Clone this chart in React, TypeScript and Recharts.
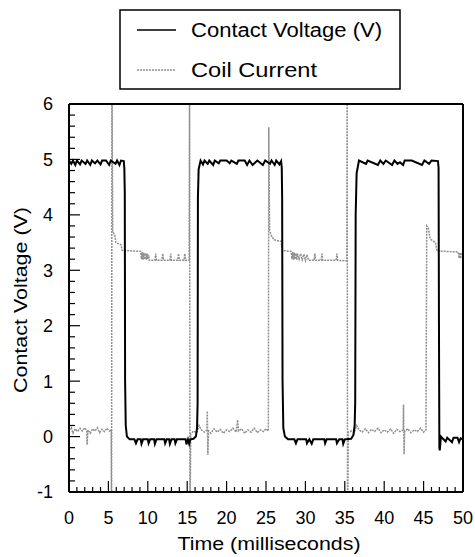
import React from "react";
import { LineChart, Line, XAxis, YAxis, Legend } from "recharts";

// contact voltage trace, [time ms, volts]
const contactPoints: [number, number][] = [
  [0, 4.98], [0.3, 4.92], [0.5, 4.98], [0.8, 4.9], [1.0, 4.98], [1.4, 4.91], [1.6, 4.98],
  [2.1, 4.92], [2.3, 4.98], [2.7, 4.9], [2.9, 4.98], [3.3, 4.93], [3.6, 4.98], [4.0, 4.91],
  [4.2, 4.98], [4.7, 4.98], [5.1, 4.9], [5.3, 4.98], [5.9, 4.92], [6.1, 4.98], [6.4, 4.9],
  [6.6, 4.98], [6.95, 4.97], [7.02, 4.85], [7.08, 4.4], [7.12, 1.0], [7.2, 0.2], [7.35, 0.0],
  [7.7, -0.05], [8.3, -0.05], [8.5, -0.12], [8.7, -0.05], [9.1, -0.05], [9.2, -0.13], [9.4, -0.05],
  [10.0, -0.05], [10.1, -0.12], [10.3, -0.05], [10.8, -0.05], [10.9, -0.13], [11.1, -0.05],
  [12.1, -0.05], [12.2, -0.12], [12.4, -0.05], [12.7, -0.05], [12.8, -0.13], [13.0, -0.05],
  [13.4, -0.05], [13.5, -0.12], [13.7, -0.05], [14.8, -0.05], [14.9, -0.14], [15.1, -0.05],
  [15.25, -0.13], [15.4, -0.05], [15.8, -0.04], [16.1, 0.0], [16.25, 0.15], [16.32, 0.6],
  [16.36, 4.3], [16.45, 4.82], [16.7, 4.98], [17.0, 4.91], [17.2, 4.98], [17.6, 4.92], [17.8, 4.98],
  [18.3, 4.9], [18.5, 4.98], [19.0, 4.93], [19.2, 4.98], [20.0, 4.98], [20.4, 4.93], [20.6, 4.98],
  [21.3, 4.92], [21.5, 4.98], [22.3, 4.98], [22.6, 4.9], [22.9, 4.98], [23.3, 4.9], [23.6, 4.94],
  [23.9, 4.98], [24.6, 4.9], [24.9, 4.98], [25.5, 4.92], [25.7, 4.98], [26.1, 4.9], [26.3, 4.98],
  [26.7, 4.91], [26.92, 4.97], [27.0, 4.85], [27.05, 4.3], [27.1, 1.0], [27.2, 0.15], [27.4, 0.0],
  [27.8, -0.05], [28.6, -0.05], [28.8, -0.12], [29.0, -0.05], [30.1, -0.05], [30.2, -0.12],
  [30.5, -0.05], [30.8, -0.13], [31.0, -0.05], [32.4, -0.05], [32.5, -0.12], [32.7, -0.05],
  [33.9, -0.05], [34.0, -0.12], [34.3, -0.05], [34.7, -0.05], [34.8, -0.13], [35.0, -0.05],
  [35.8, -0.04], [36.1, 0.03], [36.25, 0.2], [36.32, 0.6], [36.38, 4.0], [36.5, 4.75],
  [36.8, 4.98], [37.7, 4.92], [37.9, 4.98], [39.2, 4.9], [39.5, 4.98], [39.9, 4.92], [40.2, 4.98],
  [41.0, 4.9], [41.3, 4.98], [41.7, 4.92], [42.0, 4.95], [42.4, 4.9], [42.6, 4.98], [43.5, 4.98],
  [44.8, 4.9], [45.1, 4.98], [45.7, 4.92], [46.0, 4.98], [46.82, 4.97], [46.9, 4.85],
  [46.95, 2.0], [47.0, -0.2], [47.05, -0.25], [47.2, 0.0], [47.4, -0.03], [47.8, -0.09],
  [48.0, -0.02], [48.6, -0.1], [48.8, -0.02], [49.3, -0.02], [49.5, -0.1], [49.7, -0.03], [50, -0.05],
];

// coil current trace, [time ms, value on the same scale]
const coilPoints: [number, number][] = [
  [0, 0.12], [0.3, 0.16], [0.5, 0.06], [0.8, 0.14], [1.1, 0.09], [1.4, 0.15], [1.7, 0.1],
  [2.0, 0.16], [2.25, 0.1], [2.3, -0.15], [2.4, 0.12], [2.7, 0.06], [3.0, 0.14], [3.3, 0.1],
  [3.6, 0.16], [3.9, 0.07], [4.2, 0.13], [4.5, 0.09], [4.8, 0.15], [5.1, 0.1], [5.35, 0.12],
  [5.4, -1.6], [5.45, 6.6], [5.55, 3.7], [5.8, 3.64], [5.95, 3.5], [6.6, 3.46], [6.75, 3.36],
  [8.0, 3.35], [9.1, 3.34], [9.2, 3.2], [9.3, 3.33], [9.4, 3.19], [9.5, 3.32], [9.6, 3.2],
  [9.7, 3.31], [9.8, 3.19], [9.9, 3.3], [10.0, 3.2], [10.1, 3.28], [10.2, 3.18], [10.9, 3.18],
  [11.0, 3.3], [11.1, 3.18], [11.8, 3.18], [11.9, 3.3], [12.0, 3.18], [12.8, 3.18], [12.9, 3.3],
  [13.0, 3.18], [13.8, 3.18], [13.9, 3.3], [14.0, 3.18], [14.6, 3.18], [14.7, 3.3], [14.8, 3.18],
  [15.25, 3.18], [15.3, 6.6], [15.35, -1.6], [15.45, 0.05], [15.8, 0.1], [16.2, 0.07], [16.5, 0.2],
  [16.8, 0.12], [17.2, 0.08], [17.5, 0.12], [17.55, 0.46], [17.62, -0.33], [17.7, 0.1], [18.0, 0.06],
  [18.4, 0.14], [18.8, 0.08], [19.2, 0.13], [19.6, 0.06], [20.0, 0.12], [20.4, 0.09], [20.8, 0.15],
  [21.2, 0.08], [21.4, 0.3], [21.5, 0.1], [21.9, 0.14], [22.3, 0.06], [22.7, 0.12], [23.1, 0.08],
  [23.5, 0.15], [23.9, 0.07], [24.3, 0.12], [24.7, 0.09], [25.0, 0.14], [25.3, 0.1], [25.35, 5.58],
  [25.45, 3.72], [25.7, 3.62], [26.0, 3.55], [26.95, 3.52], [27.05, 3.36], [28.2, 3.34], [28.3, 3.2],
  [28.4, 3.33], [28.5, 3.19], [28.6, 3.32], [28.7, 3.2], [28.8, 3.31], [28.9, 3.19], [29.0, 3.3],
  [29.2, 3.2], [29.4, 3.3], [29.6, 3.19], [29.8, 3.29], [30.0, 3.18], [30.2, 3.28], [30.4, 3.18],
  [31.1, 3.18], [31.2, 3.3], [31.3, 3.18], [32.0, 3.18], [32.1, 3.3], [32.2, 3.18], [33.9, 3.18],
  [34.0, 3.3], [34.1, 3.18], [35.25, 3.17], [35.3, 6.6], [35.35, -1.6], [35.45, 0.08], [35.8, 0.1],
  [36.2, 0.07], [36.5, 0.2], [36.8, 0.12], [37.2, 0.08], [37.6, 0.14], [38.0, 0.07], [38.4, 0.13],
  [38.8, 0.09], [39.2, 0.15], [39.6, 0.07], [40.0, 0.12], [40.4, 0.08], [40.8, 0.14], [41.2, 0.06],
  [41.6, 0.13], [42.0, 0.09], [42.4, 0.12], [42.45, 0.58], [42.52, -0.32], [42.6, 0.1], [43.0, 0.14],
  [43.4, 0.07], [43.8, 0.12], [44.2, 0.09], [44.6, 0.15], [45.0, 0.08], [45.3, 0.12], [45.4, 3.8],
  [45.6, 3.76], [45.85, 3.56], [46.5, 3.5], [46.7, 3.35], [49.4, 3.33], [49.5, 3.22], [49.6, 3.32],
  [49.7, 3.21], [49.8, 3.31], [50, 3.3],
];

const xMajor = [0, 5, 10, 15, 20, 25, 30, 35, 40, 45, 50];
const xTicks = [
  0, 1, 2, 3, 4, 5, 6, 7, 8, 9, 10, 11, 12, 13, 14, 15, 16, 17, 18, 19, 20, 21, 22, 23, 24, 25,
  26, 27, 28, 29, 30, 31, 32, 33, 34, 35, 36, 37, 38, 39, 40, 41, 42, 43, 44, 45, 46, 47, 48, 49, 50,
];
const yTicks = [
  -1, -0.8, -0.6, -0.4, -0.2, 0, 0.2, 0.4, 0.6, 0.8, 1, 1.2, 1.4, 1.6, 1.8, 2, 2.2, 2.4, 2.6, 2.8,
  3, 3.2, 3.4, 3.6, 3.8, 4, 4.2, 4.4, 4.6, 4.8, 5, 5.2, 5.4, 5.6, 5.8, 6,
];

const contactData = contactPoints.map(([t, v]) => ({ t, v }));
const coilData = coilPoints.map(([t, v]) => ({ t, v }));

const FONT = "'Liberation Sans', Arial, Helvetica, sans-serif";
const GRAY = "#8f8f8f";

const XTick = (props: any) => {
  const { x, y, payload } = props;
  const major = xMajor.includes(payload.value);
  return (
    <g>
      <line x1={x} x2={x} y1={y} y2={y - (major ? 11 : 5)} stroke="#000" strokeWidth={1.2} />
      {major && (
        <text x={x} y={y + 32} textAnchor="middle" fontSize={18} fontFamily={FONT} fill="#000">
          {payload.value}
        </text>
      )}
    </g>
  );
};

const YTick = (props: any) => {
  const { x, y, payload } = props;
  const v = payload.value;
  const major = Math.abs(v - Math.round(v)) < 1e-6;
  return (
    <g>
      <line x1={x} x2={x + (major ? 11 : 6)} y1={y} y2={y} stroke="#000" strokeWidth={1.2} />
      {major && (
        <text x={x - 16} y={y} dy="0.36em" textAnchor="end" fontSize={18} fontFamily={FONT} fill="#000">
          {Math.round(v)}
        </text>
      )}
    </g>
  );
};

const XTitle = (props: any) => {
  const vb = props.viewBox;
  return (
    <text
      x={vb.x + vb.width / 2 + 3}
      y={vb.y + 58}
      textAnchor="middle"
      fontSize={18}
      fontFamily={FONT}
      textLength={183}
      lengthAdjust="spacingAndGlyphs"
    >
      Time (milliseconds)
    </text>
  );
};

const YTitle = (props: any) => {
  const vb = props.viewBox;
  const cx = vb.x + vb.width - 42;
  const cy = vb.y + vb.height / 2 + 2;
  return (
    <text
      x={cx}
      y={cy}
      transform={`rotate(-90 ${cx} ${cy})`}
      textAnchor="middle"
      fontSize={18}
      fontFamily={FONT}
      textLength={186}
      lengthAdjust="spacingAndGlyphs"
    >
      Contact Voltage (V)
    </text>
  );
};

const LegendBox = () => (
  <svg width={283} height={82} style={{ display: "block" }}>
    <rect x={1} y={1} width={280} height={79} fill="#fff" stroke="#000" strokeWidth={1.5} />
    <line x1={18} x2={57} y1={21} y2={21} stroke="#000" strokeWidth={1.5} />
    <text x={72} y={27.5} fontSize={19.5} fontFamily={FONT} textLength={191} lengthAdjust="spacingAndGlyphs">
      Contact Voltage (V)
    </text>
    <line x1={18} x2={57} y1={61} y2={61} stroke={GRAY} strokeWidth={1.5} strokeDasharray="2 1" />
    <text x={72} y={68.3} fontSize={19.5} fontFamily={FONT} textLength={126} lengthAdjust="spacingAndGlyphs">
      Coil Current
    </text>
  </svg>
);

export default function App() {
  return (
    <div style={{ position: "absolute", left: 0, top: 0, background: "#fff" }}>
      <LineChart width={475} height={557} margin={{ top: 103, right: 11, bottom: 64, left: 68 }}>
        <XAxis
          dataKey="t"
          type="number"
          domain={[0, 50]}
          ticks={xTicks}
          interval={0}
          height={1}
          tickSize={0}
          tickMargin={0}
          tickLine={false}
          tick={XTick}
          axisLine={{ stroke: "#000", strokeWidth: 2 }}
          allowDataOverflow
          label={{ content: XTitle }}
        />
        <XAxis
          xAxisId="top"
          orientation="top"
          type="number"
          domain={[0, 50]}
          height={1}
          tick={false}
          tickLine={false}
          axisLine={{ stroke: "#000", strokeWidth: 2 }}
        />
        <YAxis
          type="number"
          domain={[-1, 6]}
          ticks={yTicks}
          interval={0}
          width={1}
          tickSize={0}
          tickMargin={0}
          tickLine={false}
          tick={YTick}
          axisLine={{ stroke: "#000", strokeWidth: 2 }}
          allowDataOverflow
          label={{ content: YTitle }}
        />
        <YAxis
          yAxisId="right"
          orientation="right"
          type="number"
          domain={[-1, 6]}
          width={1}
          tick={false}
          tickLine={false}
          axisLine={{ stroke: "#000", strokeWidth: 2 }}
        />
        <Legend
          layout="vertical"
          align="center"
          verticalAlign="middle"
          content={LegendBox}
          wrapperStyle={{ left: 119, top: 9, width: 283, height: 82 }}
        />
        <Line
          data={coilData}
          dataKey="v"
          name="Coil Current"
          type="linear"
          stroke={GRAY}
          strokeWidth={1.5}
          strokeDasharray="2 1"
          dot={false}
          isAnimationActive={false}
        />
        <Line
          data={contactData}
          dataKey="v"
          name="Contact Voltage (V)"
          type="linear"
          stroke="#000"
          strokeWidth={2}
          dot={false}
          isAnimationActive={false}
        />
      </LineChart>
    </div>
  );
}
